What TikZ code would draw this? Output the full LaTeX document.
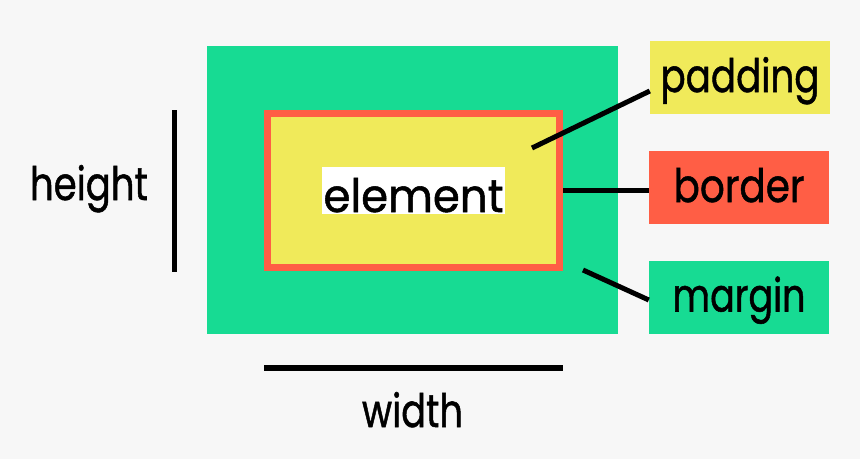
\documentclass[tikz,border=0pt]{standalone}
\usepackage{fontspec}
\setmainfont{Poppins}[FakeBold=1.2]
\usetikzlibrary{calc}
\definecolor{bg}{HTML}{F7F7F7}
\definecolor{mgreen}{HTML}{17DB93}
\definecolor{pyellow}{HTML}{F0EA5A}
\definecolor{borange}{HTML}{FF5E45}
\newsavebox{\fitbox}
\newcommand{\fitw}[2]{\sbox{\fitbox}{#2}\pgfmathsetmacro{\fitr}{#1/\wd\fitbox}\scalebox{\fitr}[1]{\usebox{\fitbox}}}
\begin{document}
\begin{tikzpicture}[x=1pt,y=-1pt,
  bigtext/.style={font=\fontsize{46}{54}\selectfont},
  lbl/.style={bigtext, minimum width=180pt, minimum height=73pt, inner sep=0pt, text height=35pt, text depth=6pt},
  conn/.style={line width=5pt, black}]
\fill[bg] (0,0) rectangle (860,459);
\useasboundingbox (0,0) rectangle (860,459);
% boxes
\node[fill=mgreen, minimum width=411pt, minimum height=288pt, inner sep=0pt] (marginbox) at (412.5,190) {};
\node[fill=pyellow, draw=borange, line width=7pt, minimum width=292pt, minimum height=154pt, inner sep=0pt] (borderbox) at (413.5,190.5) {};
\node[bigtext, fill=white, anchor=base, minimum width=183pt, inner sep=0pt, text height=45pt, text depth=2pt] (element) at (413.5,212) {\fitw{180}{element}};
% labels
\node[lbl, fill=pyellow] (padding) at (740,77.5) {\fitw{159}{padding}};
\node[lbl, fill=borange] (border) at (739,187.5) {\fitw{131}{border}};
\node[lbl, fill=mgreen] (margin) at (739,297) {\fitw{133}{margin}};
% connectors
\coordinate (padin) at (532,148);
\coordinate (marin) at (583,270);
\draw[conn] (padin) -- ($(padding.west)+(0,13.5)$);
\draw[conn] (borderbox.east) -- (borderbox.east -| border.west);
\draw[conn] (marin) -- ($(margin.west)+(0,3)$);
% height
\coordinate (htop) at (174,110);
\coordinate (hbot) at (174,272);
\draw[line width=5pt] (htop) -- (hbot);
\node[bigtext, anchor=base, inner sep=0pt] (height) at (89,200) {\fitw{118}{height}};
% width
\coordinate (wl) at (264,368);
\coordinate (wr) at (563,368);
\draw[line width=6pt] (wl) -- (wr);
\node[bigtext, anchor=base, inner sep=0pt] (width) at (412.5,427) {\fitw{101}{width}};
\end{tikzpicture}
\end{document}
